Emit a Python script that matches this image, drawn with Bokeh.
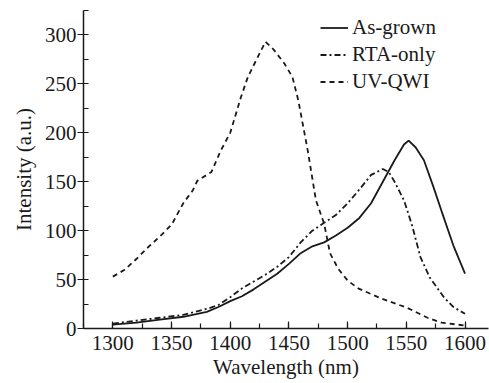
from bokeh.plotting import figure
from bokeh.models import Range1d, Legend, LegendItem, FixedTicker
from bokeh.embed import file_html
from bokeh.resources import INLINE

# As-grown (solid)
ag_x = [1300, 1320, 1340, 1360, 1380, 1390, 1400, 1410, 1420, 1430, 1440, 1450, 1460, 1470, 1480,
        1490, 1500, 1510, 1520, 1530, 1540, 1548, 1552, 1558, 1565, 1573, 1580, 1590, 1600]
ag_y = [4, 6, 9, 12, 17, 22, 28, 33, 40, 48, 56, 66, 77, 84, 88,
        95, 103, 113, 128, 150, 172, 188, 192, 185, 172, 145, 120, 85, 56]

# RTA-only (dash-dot)
rta_x = [1300, 1320, 1340, 1360, 1380, 1390, 1400, 1410, 1420, 1430, 1440, 1450, 1460, 1470, 1480,
         1490, 1500, 1510, 1520, 1530, 1535, 1540, 1548, 1555, 1562, 1570, 1582, 1590, 1600]
rta_y = [5, 8, 11, 14, 20, 24, 32, 41, 48, 55, 63, 73, 88, 100, 108,
         116, 128, 142, 157, 163, 160, 150, 131, 105, 73, 52, 32, 22, 15]

# UV-QWI (dashed)
uv_x = [1300, 1310, 1320, 1330, 1340, 1350, 1360, 1368, 1372, 1380, 1384, 1392, 1400, 1409, 1415,
        1422, 1430, 1437, 1446, 1453, 1458, 1466, 1473, 1480, 1485, 1492, 1500, 1509, 1528, 1551,
        1568, 1580, 1600]
uv_y = [53, 60, 71, 83, 94, 106, 128, 141, 151, 157, 160, 182, 200, 236, 257,
        274, 293, 285, 271, 257, 233, 182, 131, 107, 77, 61, 49, 41, 31, 21,
        11, 6, 3]

x_ticks = [1300, 1350, 1400, 1450, 1500, 1550, 1600]
y_ticks = [0, 50, 100, 150, 200, 250, 300]

FONT = "Liberation Serif"
INK = "#1a1a1a"

p = figure(width=489, height=383, output_backend="svg", toolbar_location=None,
           x_range=Range1d(1275, 1620), y_range=Range1d(0, 325),
           min_border_left=83, min_border_right=1, min_border_top=10, min_border_bottom=55)
p.outline_line_color = None
p.xgrid.visible = False
p.ygrid.visible = False

r1 = p.line(ag_x, ag_y, line_color=INK, line_width=1.8)
r2 = p.line(rta_x, rta_y, line_color=INK, line_width=1.8, line_dash="6 3 2 3")
r3 = p.line(uv_x, uv_y, line_color=INK, line_width=1.8, line_dash="5 4")

p.xaxis.ticker = FixedTicker(ticks=x_ticks, minor_ticks=list(range(1275, 1626, 25)))
p.yaxis.ticker = FixedTicker(ticks=y_ticks, minor_ticks=list(range(0, 326, 25)))

for ax in (p.xaxis[0], p.yaxis[0]):
    ax.axis_line_color = INK
    ax.axis_line_width = 1.5
    ax.major_tick_line_color = INK
    ax.minor_tick_line_color = INK
    ax.major_tick_line_width = 1.2
    ax.minor_tick_line_width = 1.2
    ax.major_label_text_font = FONT
    ax.major_label_text_font_size = "21px"
    ax.major_label_text_color = INK
    ax.axis_label_text_font = FONT
    ax.axis_label_text_font_size = "21px"
    ax.axis_label_text_font_style = "normal"
    ax.axis_label_text_color = INK

p.xaxis.major_tick_in = 7
p.xaxis.major_tick_out = 0
p.xaxis.minor_tick_in = 5
p.xaxis.minor_tick_out = 0
p.xaxis.major_label_standoff = 7
p.xaxis.axis_label = "Wavelength (nm)"
p.xaxis.axis_label_standoff = 2

p.yaxis.major_tick_in = 0
p.yaxis.major_tick_out = 6
p.yaxis.minor_tick_in = 5
p.yaxis.minor_tick_out = 0
p.yaxis.major_label_standoff = 1
p.yaxis.axis_label = "Intensity (a.u.)"
p.yaxis.axis_label_standoff = 6

legend = Legend(items=[LegendItem(label="As-grown", renderers=[r1]),
                       LegendItem(label="RTA-only", renderers=[r2]),
                       LegendItem(label="UV-QWI", renderers=[r3])],
                location=(237, 234))
legend.background_fill_alpha = 0
legend.border_line_color = None
legend.padding = 0
legend.margin = 0
legend.glyph_width = 28
legend.glyph_height = 21
legend.label_height = 21
legend.spacing = 2
legend.label_standoff = 4
legend.label_text_font = FONT
legend.label_text_font_size = "21px"
legend.label_text_color = INK
p.add_layout(legend, "center")

open("out.html", "w").write(file_html(p, INLINE))
